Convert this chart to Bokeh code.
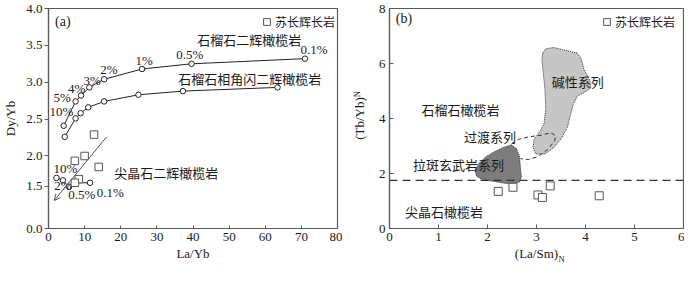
import numpy as np
from bokeh.plotting import figure
from bokeh.models import (ColumnDataSource, FixedTicker, Label, Legend, LegendItem,
                          Span, Arrow, OpenHead, Range1d, LinearAxis)
from bokeh.layouts import row
from bokeh.embed import file_html
from bokeh.resources import INLINE
from bokeh.core.properties import value

SERIF = "Liberation Serif"
CJK = "Noto Sans CJK SC"
INK = "#1a1a1a"
AXC = "#5a5a5a"

# ---------------- panel (a) data ----------------
GRT_LA_YB = [4.2, 7.5, 9.0, 11.3, 15.4, 25.9, 39.6, 71.0]
GRT_DY_YB = [2.41, 2.74, 2.82, 2.93, 3.04, 3.18, 3.25, 3.32]
GRT_PCT = ["10%", "5%", "4%", "3%", "2%", "1%", "0.5%", "0.1%"]
GRT_PCT_X = [3.6, 3.8, 7.8, 12.1, 16.7, 26.5, 39.1, 73.5]
GRT_PCT_Y = [2.60, 2.79, 2.92, 3.03, 3.17, 3.30, 3.38, 3.44]

AMP_LA_YB = [4.5, 7.5, 8.9, 11.0, 15.4, 24.9, 37.2, 63.4]
AMP_DY_YB = [2.26, 2.51, 2.58, 2.66, 2.74, 2.83, 2.88, 2.93]

SP_LA_YB = [2.2, 4.0, 5.7, 7.1, 11.5]
SP_DY_YB = [1.64, 1.60, 1.49, 1.56, 1.56]
SP_PCT = ["10%", "2%", "0.5%", "0.1%"]
SP_PCT_X = [4.7, 4.0, 9.2, 17.1]
SP_PCT_Y = [1.79, 1.52, 1.22, 1.28]

NORITE_A_LA_YB = [12.6, 7.3, 10.0, 13.9, 8.4, 7.3]
NORITE_A_DY_YB = [2.29, 1.92, 2.00, 1.82, 1.62, 1.56]

ARROW_X = [16.1, 1.6]
ARROW_Y = [2.26, 1.0]

Y_TICKS_A = [0.0, 1.5, 2.0, 2.5, 3.0, 3.5, 4.0]
X_TICKS_A = [0, 10, 20, 30, 40, 50, 60, 70, 80]

# broken y axis of panel (a): value -> display position
YB = [0.0, 1.5, 2.0, 4.0]
YD = [0.0, 46.0, 79.3, 240.6]


def yd(v):
    return np.interp(np.asarray(v, dtype=float), YB, YD)


# ---------------- panel (b) data ----------------
NORITE_B_LA_SM = [2.22, 2.52, 3.03, 3.12, 3.28, 4.28]
NORITE_B_TB_YB = [1.35, 1.50, 1.22, 1.13, 1.55, 1.19]

ALK_X = [3.13, 3.19, 3.35, 3.83, 3.91, 3.97, 4.09, 4.11, 3.97, 3.83, 3.75, 3.69,
         3.63, 3.51, 3.35, 3.17, 2.99, 2.93, 2.95, 3.05, 3.15, 3.19, 3.17, 3.13, 3.11]
ALK_Y = [6.38, 6.54, 6.58, 6.38, 6.18, 5.78, 5.38, 5.11, 4.94, 4.81, 4.51, 4.11,
         3.68, 3.28, 2.94, 2.71, 2.71, 2.94, 3.24, 3.48, 3.78, 4.34, 5.11, 5.78, 6.18]

THOL_X = [2.49, 2.59, 2.65, 2.67, 2.69, 2.67, 2.57, 2.37, 2.13, 1.89, 1.77, 1.75,
          1.83, 1.97, 2.13, 2.31]
THOL_Y = [3.04, 2.91, 2.64, 2.28, 1.91, 1.71, 1.64, 1.64, 1.71, 1.78, 1.91, 2.11,
          2.38, 2.61, 2.78, 2.94]

TRANS_X = [2.49, 2.63, 2.83, 3.09, 3.29, 3.39, 3.37, 3.23, 3.03, 2.83, 2.67]
TRANS_Y = [3.08, 3.24, 3.33, 3.39, 3.48, 3.38, 3.18, 2.88, 2.61, 2.51, 2.54]

DASH_Y = 1.75
X_TICKS_B = [0, 1, 2, 3, 4, 5, 6]
Y_TICKS_B = [0, 2, 4, 6, 8]

W, H = 342, 266
TOP, BOTTOM = 8, 36
FH = H - TOP - BOTTOM


def style_axes(p):
    p.grid.visible = False
    p.outline_line_color = AXC
    p.outline_line_width = 1.2
    for ax in (p.xaxis[0], p.yaxis[0]):
        ax.axis_line_color = AXC
        ax.axis_line_width = 1.2
        ax.major_tick_line_color = AXC
        ax.minor_tick_line_color = None
        ax.major_label_text_font = SERIF
        ax.major_label_text_font_size = "13px"
        ax.major_label_text_color = INK
        ax.axis_label_text_font = SERIF
        ax.axis_label_text_font_size = "13px"
        ax.axis_label_text_font_style = "normal"
        ax.axis_label_text_color = INK
    p.xaxis.major_label_standoff = 4
    p.xaxis.axis_label_standoff = 2


def make_legend(renderer, frame_w):
    return Legend(items=[LegendItem(label="苏长辉长岩", renderers=[renderer])],
                  location=(frame_w - 88, FH - 27),
                  label_text_font=CJK, label_text_font_size="12px", label_text_color=INK,
                  glyph_width=17, glyph_height=17, label_standoff=0, padding=3, margin=0,
                  background_fill_alpha=0, border_line_alpha=0, label_height=17)


# ================= panel (a) =================
FW_A = W - 42 - 5
pa = figure(width=W, height=H, output_backend="svg", toolbar_location=None,
            x_range=Range1d(0, 80), y_range=Range1d(0, YD[-1]),
            min_border_left=42, min_border_right=5, min_border_top=TOP,
            min_border_bottom=BOTTOM)
style_axes(pa)
pa.xaxis.ticker = FixedTicker(ticks=X_TICKS_A)
pa.xaxis.major_tick_in = 3
pa.xaxis.major_tick_out = 0
ytick_pos = [float(v) for v in yd(Y_TICKS_A)]
pa.yaxis.ticker = FixedTicker(ticks=ytick_pos)
pa.yaxis.major_label_overrides = {pos: f"{v:.1f}" for pos, v in zip(ytick_pos, Y_TICKS_A)}
pa.yaxis.major_tick_in = 0
pa.yaxis.major_tick_out = 4
pa.yaxis.major_label_standoff = 2
pa.yaxis.axis_label_standoff = 5
pa.xaxis.axis_label = "La/Yb"
pa.yaxis.axis_label = "Dy/Yb"

for xs, ys in ((GRT_LA_YB, GRT_DY_YB), (AMP_LA_YB, AMP_DY_YB), (SP_LA_YB, SP_DY_YB)):
    pa.line(xs, yd(ys), line_color="#222222", line_width=1)
    pa.scatter(xs, yd(ys), marker="circle", size=5.5, fill_color="white",
               line_color="#222222", line_width=1)

arrow_src = ColumnDataSource(dict(x0=[ARROW_X[0]], y0=[float(yd(ARROW_Y[0]))],
                                  x1=[ARROW_X[1]], y1=[float(yd(ARROW_Y[1]))]))
pa.add_layout(Arrow(x_start="x0", y_start="y0", x_end="x1", y_end="y1", source=arrow_src,
                    line_color="#555555", line_width=1,
                    end=OpenHead(size=6, line_color="#555555", line_width=1)))

sq_a = pa.scatter(NORITE_A_LA_YB, yd(NORITE_A_DY_YB), marker="square", size=7.5,
                  fill_color="white", line_color="#555555", line_width=1)

pa.text(x=GRT_PCT_X, y=yd(GRT_PCT_Y), text=GRT_PCT, text_font=value(SERIF),
        text_font_size="13px", text_color=INK, text_align="center", text_baseline="middle")
pa.text(x=SP_PCT_X, y=yd(SP_PCT_Y), text=SP_PCT, text_font=value(SERIF),
        text_font_size="13px", text_color=INK, text_align="center", text_baseline="middle")

for txt, x, y in (("石榴石二辉橄榄岩", 55.6, 3.58),
                  ("石榴石相角闪二辉橄榄岩", 55.7, 3.05),
                  ("尖晶石二辉橄榄岩", 32.6, 1.725)):
    pa.add_layout(Label(x=x, y=float(yd(y)), text=txt, text_font=CJK, text_font_size="13px",
                        text_color=INK, text_align="center", text_baseline="middle"))
pa.add_layout(Label(x=1.8, y=float(yd(3.83)), text="(a)", text_font=SERIF,
                    text_font_size="14px", text_color=INK, text_align="left",
                    text_baseline="middle"))
pa.add_layout(make_legend(sq_a, FW_A))

# ================= panel (b) =================
FW_B = W - 47 - 1
pb = figure(width=W, height=H, output_backend="svg", toolbar_location=None,
            x_range=Range1d(0, 6), y_range=Range1d(0, 8),
            min_border_left=47, min_border_right=1, min_border_top=TOP,
            min_border_bottom=BOTTOM)
style_axes(pb)
pb.xaxis.ticker = FixedTicker(ticks=X_TICKS_B)
pb.yaxis.ticker = FixedTicker(ticks=Y_TICKS_B)
for ax in (pb.xaxis[0], pb.yaxis[0]):
    ax.major_tick_in = 4
    ax.major_tick_out = 0
pb.yaxis.major_label_standoff = 4
pb.yaxis.axis_label_standoff = 9
pb.xaxis.axis_label = "(La/Sm)"
pb.yaxis.axis_label = "(Tb/Yb)"

# subscript "N" of the axis titles, drawn as single-label extra axes
N_X_POS = 3.0 + 25.0 / (FW_B / 6.0)
N_Y_POS = 4.0 + 24.5 / (FH / 8.0)
n_x = LinearAxis(ticker=FixedTicker(ticks=[N_X_POS]), major_label_overrides={N_X_POS: "N"},
                 axis_line_color=None, major_tick_line_color=None, major_tick_in=0,
                 major_tick_out=0, major_label_standoff=-10, major_label_text_font=SERIF,
                 major_label_text_font_size="8.5px", major_label_text_color=INK)
pb.add_layout(n_x, "below")
n_y = LinearAxis(ticker=FixedTicker(ticks=[N_Y_POS]), major_label_overrides={N_Y_POS: "N"},
                 axis_line_color=None, major_tick_line_color=None, major_tick_in=0,
                 major_tick_out=0, major_label_standoff=-14, major_label_orientation="vertical",
                 major_label_text_font=SERIF, major_label_text_font_size="8.5px",
                 major_label_text_color=INK)
pb.add_layout(n_y, "left")

pb.patch(ALK_X, ALK_Y, fill_color="#c6c6c6", line_color="#333333", line_width=1,
         line_dash="1 1")
pb.patch(THOL_X, THOL_Y, fill_color="#7c7c7c", line_color="#333333", line_width=1,
         line_dash="1 1")
pb.line(TRANS_X, TRANS_Y, line_color="#333333", line_width=1, line_dash="4 3")
pb.add_layout(Span(location=DASH_Y, dimension="width", line_color="#333333",
                   line_width=1.2, line_dash="8 5"))
sq_b = pb.scatter(NORITE_B_LA_SM, NORITE_B_TB_YB, marker="square", size=8,
                  fill_color="white", line_color="#555555", line_width=1)

for txt, x, y in (("碱性系列", 3.84, 5.33),
                  ("石榴石橄榄岩", 1.45, 4.33),
                  ("过渡系列", 2.05, 3.33),
                  ("拉斑玄武岩系列", 1.41, 2.33),
                  ("尖晶石橄榄岩", 1.11, 0.63)):
    pb.add_layout(Label(x=x, y=y, text=txt, text_font=CJK, text_font_size="13px",
                        text_color=INK, text_align="center", text_baseline="middle"))
pb.add_layout(Label(x=0.13, y=7.62, text="(b)", text_font=SERIF, text_font_size="14px",
                    text_color=INK, text_align="left", text_baseline="middle"))
pb.add_layout(make_legend(sq_b, FW_B))

layout = row(pa, pb)
open("out.html", "w").write(file_html(layout, INLINE))
